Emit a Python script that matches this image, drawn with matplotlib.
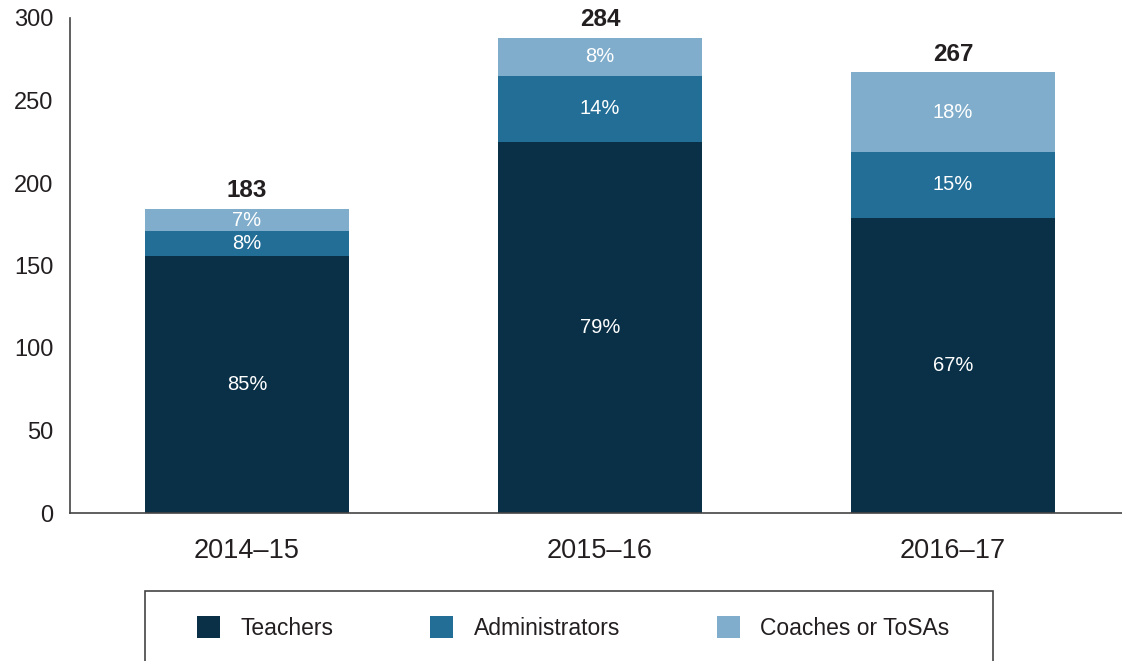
import matplotlib
matplotlib.use("Agg")
import matplotlib.pyplot as plt
from matplotlib.patches import Rectangle, Patch

plt.rcParams['font.family'] = ['Liberation Sans', 'DejaVu Sans']

years = ["2014\u201315", "2015\u201316", "2016\u201317"]
teachers = [156, 225, 179]
administrators = [15, 40, 40]
coaches = [13, 23, 48]
totals = [183, 284, 267]
pct_teachers = ["85%", "79%", "67%"]
pct_admin = ["8%", "14%", "15%"]
pct_coaches = ["7%", "8%", "18%"]
series_names = ["Teachers", "Administrators", "Coaches or ToSAs"]
colors = ["#0a3047", "#236e96", "#7fadcb"]
text_dark = "#231f20"

W, H = 1122, 661
fig = plt.figure(figsize=(W / 100, H / 100), dpi=100)
ax = fig.add_axes([70 / W, 1 - 513 / H, (W - 70) / W, (513 - 18) / H])

x = list(range(len(years)))
bw = 0.578
bottoms2 = teachers
bottoms3 = [t + a for t, a in zip(teachers, administrators)]
ax.bar(x, teachers, bw, color=colors[0], label=series_names[0])
ax.bar(x, administrators, bw, bottom=bottoms2, color=colors[1], label=series_names[1])
ax.bar(x, coaches, bw, bottom=bottoms3, color=colors[2], label=series_names[2])

for i in x:
    ax.text(i, teachers[i] / 2, pct_teachers[i], ha='center', va='center',
            color='white', fontsize=14.5)
    ax.text(i, teachers[i] + administrators[i] / 2, pct_admin[i], ha='center',
            va='center', color='white', fontsize=14.5)
    ax.text(i, bottoms3[i] + coaches[i] / 2, pct_coaches[i], ha='center',
            va='center', color='white', fontsize=14.5)
    top = bottoms3[i] + coaches[i]
    ax.annotate(str(totals[i]), (i, top), xytext=(0, 5), textcoords='offset points',
                ha='center', va='bottom', fontsize=17.5, fontweight='bold', color=text_dark)

ax.set_xlim(-0.501, 2.479)
ax.set_ylim(0, 300)
ax.set_yticks([0, 50, 100, 150, 200, 250, 300])
ax.set_xticks(x)
ax.set_xticklabels(years)
ax.tick_params(axis='y', length=0, pad=12, labelsize=17, labelcolor=text_dark)
ax.tick_params(axis='x', length=0, pad=18, labelsize=19.5, labelcolor=text_dark)
for s in ['top', 'right']:
    ax.spines[s].set_visible(False)
for s in ['left', 'bottom']:
    ax.spines[s].set_color('#444444')
    ax.spines[s].set_linewidth(1.2)

# legend box
fig.patches.append(Rectangle((145 / W, -0.05), 848 / W, 1 - 591 / H + 0.05,
                             transform=fig.transFigure, fill=False,
                             edgecolor='#444444', linewidth=1.2))
handles = [Patch(facecolor=c, edgecolor='none') for c in colors]
fig.legend(handles, series_names, loc='center left',
           bbox_to_anchor=(197 / W, 1 - 628 / H), ncol=3, frameon=False,
           fontsize=16.5, handlelength=1.0, handleheight=1.05, handletextpad=0.88,
           columnspacing=4.25, borderpad=0, borderaxespad=0, labelcolor=text_dark)

fig.savefig("out.png", dpi=100)
